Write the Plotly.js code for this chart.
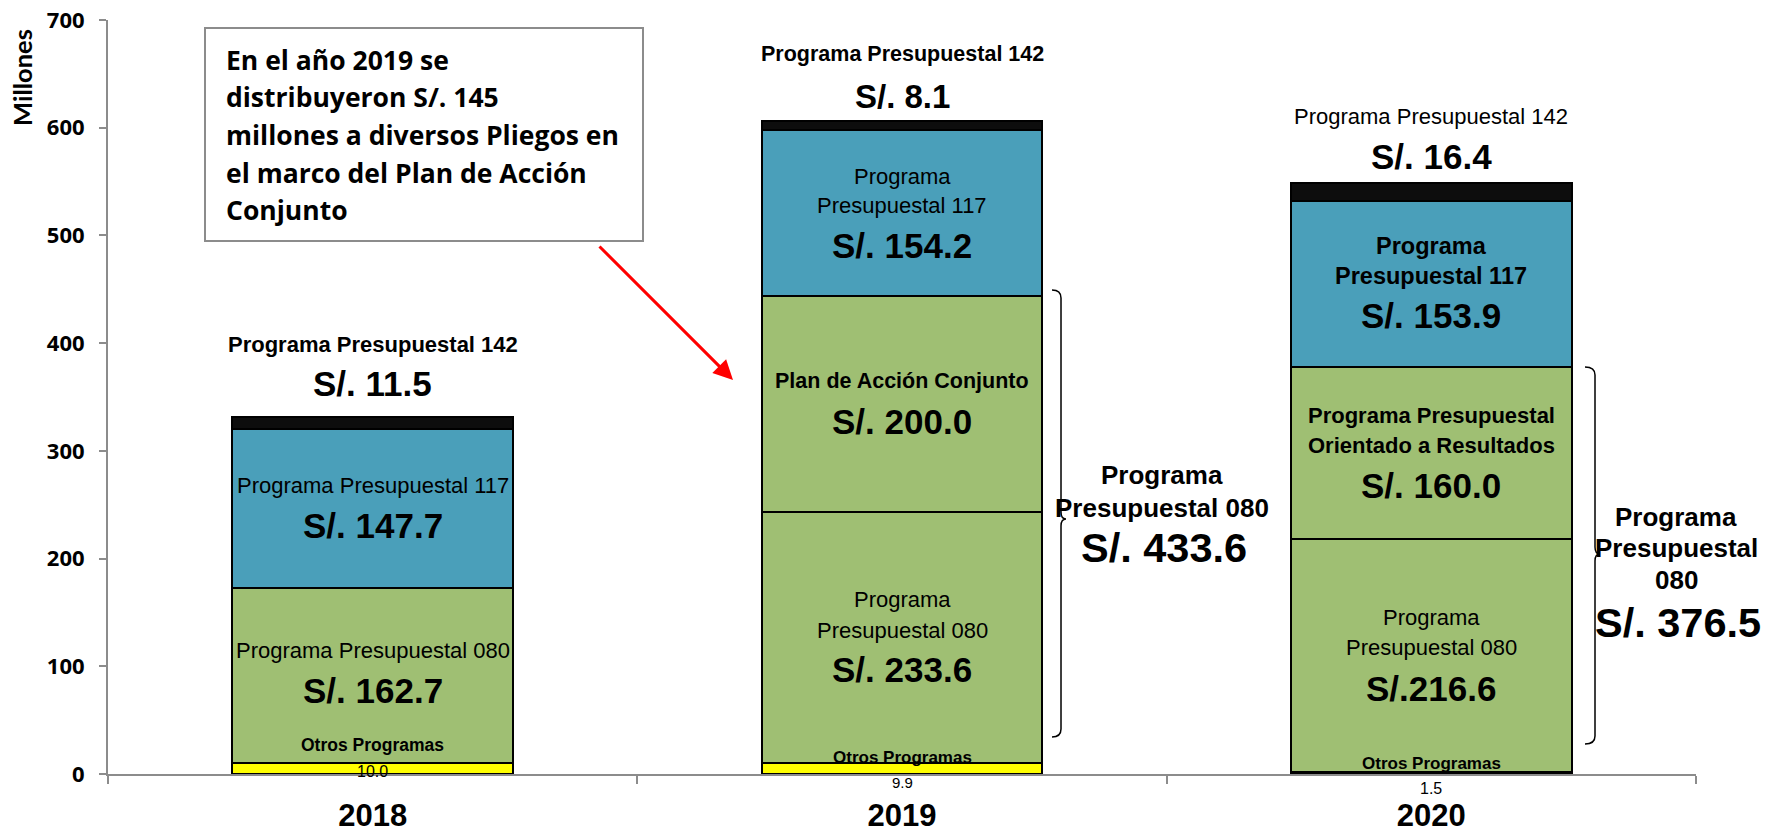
<!DOCTYPE html>
<html>
<head>
<meta charset="utf-8">
<script src="https://cdn.plot.ly/plotly-3.0.1.min.js"></script>
<style>html,body{margin:0;padding:0;background:#fff;}#chart{width:1767px;height:834px;}</style>
</head>
<body>
<div id="chart"></div>
<script>
// ---------------- DATA ----------------
const years = ['2018', '2019', '2020'];
const otros = [10.0, 9.9, 1.5];          // Otros Programas
const pp080 = [162.7, 233.6, 216.6];     // Programa Presupuestal 080
const pac = [0, 200.0, 160.0];           // Plan de Acción Conjunto / PP Orientado a Resultados
const pp117 = [147.7, 154.2, 153.9];     // Programa Presupuestal 117
const pp142 = [11.5, 8.1, 16.4];         // Programa Presupuestal 142
const bracketTotals = [433.6, 376.5];    // PP 080 totals (2019, 2020)
const yTicks = [0, 100, 200, 300, 400, 500, 600, 700];

// ---------------- GEOMETRY ----------------
const W = 1767, H = 834;
const M = {l: 108, r: 71, t: 20, b: 60};
const PW = W - M.l - M.r, PH = H - M.t - M.b;
const px = x => (x - M.l) / PW;
const py = y => (H - M.b - y) / PH;

const ARIAL = "'Liberation Sans', Arial, sans-serif";
const NARROW = ARIAL;
const LATO = "Lato, 'Open Sans', sans-serif";
const OPEN = "'Open Sans', Lato, sans-serif";

const C_YEL = '#FFFF00', C_GRN = '#9FBF73', C_BLU = '#4A9FBA', C_BLK = '#0D0D0D';

function barTrace(name, vals, color) {
  return {
    type: 'bar', name: name, x: years, y: vals, width: 0.53,
    marker: {color: color, line: {color: '#000', width: 2}},
    hoverinfo: 'skip', showlegend: false
  };
}
const traces = [
  barTrace('Otros Programas', otros, C_YEL),
  barTrace('Programa Presupuestal 080', pp080, C_GRN),
  barTrace('Plan de Acción Conjunto', pac, C_GRN),
  barTrace('Programa Presupuestal 117', pp117, C_BLU),
  barTrace('Programa Presupuestal 142', pp142, C_BLK)
];

const series = [otros, pp080, pac, pp117, pp142];
function segBase(k, i) { let s = 0; for (let j = 0; j < k; j++) s += series[j][i]; return s; }
function segMid(k, i) { return segBase(k, i) + series[k][i] / 2; }
function total(i) { return segBase(series.length, i); }
const fmt = v => v.toFixed(1);

const ann = [];
function lab(i, y, text, family, size, bold, yshift) {
  ann.push({x: i, y: y, xref: 'x', yref: 'y', text: text, showarrow: false,
    xanchor: 'center', yanchor: 'middle', yshift: yshift,
    font: {family: family, size: size, color: '#000', weight: bold ? 'bold' : 'normal'}});
}

// 2018
lab(0, total(0), 'Programa Presupuestal 142', NARROW, 22, true, 72);
lab(0, total(0), 'S/. ' + fmt(pp142[0]), NARROW, 35, true, 33);
lab(0, segMid(3, 0), 'Programa Presupuestal 117', NARROW, 22, false, 23);
lab(0, segMid(3, 0), 'S/. ' + fmt(pp117[0]), NARROW, 35, true, -17);
lab(0, segMid(1, 0), 'Programa Presupuestal 080', NARROW, 22, false, 25);
lab(0, segMid(1, 0), 'S/. ' + fmt(pp080[0]), NARROW, 35, true, -15);
lab(0, 0, 'Otros Programas', NARROW, 17.5, true, 29);
lab(0, 0, fmt(otros[0]), NARROW, 16, false, 3);

// 2019
lab(1, total(1), 'Programa Presupuestal 142', ARIAL, 21.5, true, 67);
lab(1, total(1), 'S/. ' + fmt(pp142[1]), ARIAL, 33, true, 25);
lab(1, segMid(3, 1), 'Programa', ARIAL, 22, false, 37);
lab(1, segMid(3, 1), 'Presupuestal 117', ARIAL, 22, false, 8);
lab(1, segMid(3, 1), 'S/. ' + fmt(pp117[1]), ARIAL, 35, true, -32);
lab(1, segMid(2, 1), 'Plan de Acción Conjunto', ARIAL, 21.5, true, 23);
lab(1, segMid(2, 1), 'S/. ' + fmt(pac[1]), ARIAL, 35, true, -17);
lab(1, segMid(1, 1), 'Programa', ARIAL, 22, false, 38);
lab(1, segMid(1, 1), 'Presupuestal 080', ARIAL, 22, false, 7);
lab(1, segMid(1, 1), 'S/. ' + fmt(pp080[1]), ARIAL, 35, true, -32);
lab(1, 0, 'Otros Programas', ARIAL, 17, true, 17);
lab(1, 0, fmt(otros[1]), ARIAL, 15, false, -8);

// 2020
lab(2, total(2), 'Programa Presupuestal 142', ARIAL, 22, false, 67);
lab(2, total(2), 'S/. ' + fmt(pp142[2]), ARIAL, 35, true, 27);
lab(2, segMid(3, 2), 'Programa', ARIAL, 23.5, true, 38);
lab(2, segMid(3, 2), 'Presupuestal 117', ARIAL, 23.5, true, 7.5);
lab(2, segMid(3, 2), 'S/. ' + fmt(pp117[2]), ARIAL, 35, true, -32);
lab(2, segMid(2, 2), 'Programa Presupuestal', ARIAL, 22, true, 37);
lab(2, segMid(2, 2), 'Orientado a Resultados', ARIAL, 22, true, 7);
lab(2, segMid(2, 2), 'S/. ' + fmt(pac[2]), ARIAL, 35, true, -32.5);
lab(2, segMid(1, 2), 'Programa', ARIAL, 22, false, 38);
lab(2, segMid(1, 2), 'Presupuestal 080', ARIAL, 22, false, 8);
lab(2, segMid(1, 2), 'S/.' + fmt(pp080[2]), ARIAL, 35, true, -33);
lab(2, 0, 'Otros Programas', ARIAL, 17, true, 11);
lab(2, 0, fmt(otros[2]), ARIAL, 16, false, -14);

// paper-positioned texts
function ptxt(x, y, text, family, size, bold, xanchor) {
  ann.push({x: px(x), y: py(y), xref: 'paper', yref: 'paper', text: text, showarrow: false,
    xanchor: xanchor || 'center', yanchor: 'middle',
    font: {family: family, size: size, color: '#000', weight: bold ? 'bold' : 'normal'}});
}
// bracket labels
ptxt(1162, 475, 'Programa', ARIAL, 26, true);
ptxt(1162, 508, 'Presupuestal 080', ARIAL, 26, true);
ptxt(1164, 547, 'S/. ' + fmt(bracketTotals[0]), ARIAL, 41.5, true);
ptxt(1676, 517, 'Programa', ARIAL, 26, true);
ptxt(1676, 548, 'Presupuestal', ARIAL, 26, true);
ptxt(1676, 580, '080', ARIAL, 26, true);
ptxt(1678, 622, 'S/. ' + fmt(bracketTotals[1]), ARIAL, 41.5, true);

// text box lines
const boxLines = ['En el año 2019 se', 'distribuyeron S/. 145', 'millones a diversos Pliegos en',
  'el marco del Plan de Acción', 'Conjunto'];
const boxY = [60, 97, 135, 173, 210];
boxLines.forEach((t, k) => ptxt(224, boxY[k], t, OPEN, 26.5, true, 'left'));

// y axis title
ann.push({x: px(22), y: py(78), xref: 'paper', yref: 'paper', text: 'Millones', showarrow: false,
  textangle: -90, xanchor: 'center', yanchor: 'middle',
  font: {family: LATO, size: 25.5, color: '#000', weight: 'bold'}});

// red arrow
ann.push({x: px(733), y: py(380), xref: 'paper', yref: 'paper', text: '', showarrow: true,
  ax: -135, ay: -135, arrowcolor: '#FF0000', arrowwidth: 3, arrowhead: 2, arrowsize: 1.3, standoff: 0});

// shapes
function bracePath(xl, xv, xt, yt, ym, yb) {
  const P = (x, y) => px(x).toFixed(5) + ',' + py(y).toFixed(5);
  return 'M' + P(xl, yt) + ' Q' + P(xv, yt) + ' ' + P(xv, yt + 8) +
    ' L' + P(xv, ym - 7) + ' Q' + P(xv, ym) + ' ' + P(xt, ym) +
    ' Q' + P(xv, ym) + ' ' + P(xv, ym + 7) +
    ' L' + P(xv, yb - 8) + ' Q' + P(xv, yb) + ' ' + P(xl, yb);
}
const shapes = [
  {type: 'rect', xref: 'paper', yref: 'paper', x0: px(205), x1: px(643), y0: py(241), y1: py(28),
    line: {color: '#8C8C8C', width: 2}, fillcolor: '#FFFFFF'},
  {type: 'path', xref: 'paper', yref: 'paper', path: bracePath(1052, 1061, 1066, 290, 519, 737),
    line: {color: '#000', width: 1.5}},
  {type: 'path', xref: 'paper', yref: 'paper', path: bracePath(1585, 1595, 1600, 367, 554, 744),
    line: {color: '#000', width: 1.5}}
];

const layout = {
  width: W, height: H,
  margin: M,
  paper_bgcolor: '#FFFFFF', plot_bgcolor: '#FFFFFF',
  barmode: 'stack', showlegend: false,
  xaxis: {
    type: 'category', range: [-0.5, 2.5], showgrid: false, zeroline: false,
    showline: true, linecolor: '#8C8C8C', linewidth: 2,
    ticks: 'outside', tickson: 'boundaries', ticklen: 8, tickcolor: '#8C8C8C', tickwidth: 2,
    tickfont: {family: ARIAL, size: 31, color: '#000', weight: 'bold'},
    ticklabelstandoff: 13
  },
  yaxis: {
    range: [0, 700], tickvals: yTicks, ticktext: yTicks.map(String),
    showgrid: false, zeroline: false,
    showline: true, linecolor: '#8C8C8C', linewidth: 2,
    ticks: 'outside', ticklen: 7, tickcolor: '#8C8C8C', tickwidth: 2,
    tickfont: {family: OPEN, size: 22, color: '#000', weight: 'bold'},
    ticklabelstandoff: 10
  },
  annotations: ann,
  shapes: shapes
};

Plotly.newPlot('chart', traces, layout, {displayModeBar: false, staticPlot: true});
</script>
</body>
</html>
